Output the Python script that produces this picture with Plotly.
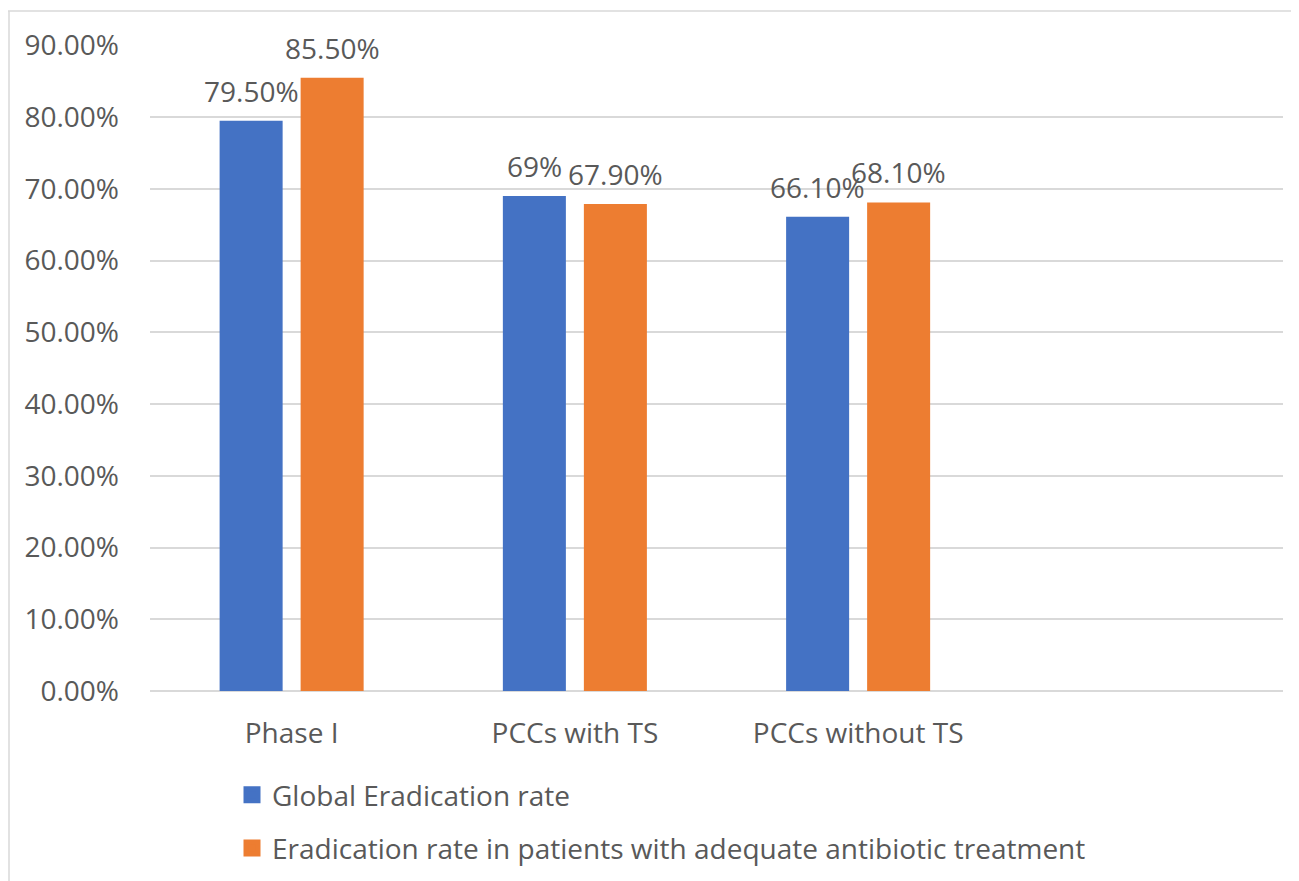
import plotly.graph_objects as go

categories = ["Phase I", "PCCs with TS", "PCCs without TS"]
all_categories = ["Phase I", "PCCs with TS", "PCCs without TS", " "]
global_rate = [0.795, 0.69, 0.661]
global_labels = ["79.50%", "69%", "66.10%"]
adequate_rate = [0.855, 0.679, 0.681]
adequate_labels = ["85.50%", "67.90%", "68.10%"]
series_names = ["Global Eradication rate",
                "Eradication rate in patients with adequate antibiotic treatment"]
colors = ["#4472C4", "#ED7D31"]
y_ticks = [0, 0.1, 0.2, 0.3, 0.4, 0.5, 0.6, 0.7, 0.8, 0.9]

FONT = "Open Sans"
FS = 28
TXT = "#595959"
GRID = "#d9d9d9"

fig = go.Figure()
series = [(global_rate, global_labels), (adequate_rate, adequate_labels)]
for k, (vals, labs) in enumerate(series):
    fig.add_trace(go.Bar(
        x=categories, y=vals, name=series_names[k],
        marker=dict(color=colors[k], line=dict(width=0)),
        showlegend=False, hoverinfo="x+y",
    ))
    # legend-only proxy on an overlaid hidden axis (bigger square symbol)
    fig.add_trace(go.Bar(
        x=[categories[0]], y=[None], name=series_names[k], yaxis="y2",
        marker=dict(color=colors[k], line=dict(color=colors[k], width=6)),
        showlegend=True, legendgroup=f"g{k}", hoverinfo="skip",
    ))

# data labels above each bar
xshift = [-40.5, 40.5]
for k, (vals, labs) in enumerate(series):
    for c, v, t in zip(categories, vals, labs):
        fig.add_annotation(
            x=c, y=v, text=t, xref="x", yref="y", showarrow=False,
            xanchor="center", yanchor="bottom", xshift=xshift[k], yshift=9,
            font=dict(family=FONT, size=FS, color=TXT),
        )

# page body has an 8px default margin; work in screen coordinates
OFF = 8
SW, SH = 1299, 881
W, H = SW - OFF, SH - OFF
L, R, T, B = 150 - OFF, 16, 45 - OFF, 190
pw, ph = W - L - R, H - T - B

def px_x(x):
    return (x - OFF - L) / pw

def px_y(y):
    return (H - B - (y - OFF)) / ph

fig.update_layout(
    width=W, height=H,
    margin=dict(l=L, r=R, t=T, b=B, autoexpand=False),
    paper_bgcolor="white", plot_bgcolor="white",
    font=dict(family=FONT, size=FS, color=TXT),
    barmode="group", bargap=0.428, bargroupgap=0.222,
    showlegend=True,
    legend=dict(
        orientation="v", x=px_x(232), y=px_y(770), xanchor="left", yanchor="top",
        font=dict(family=FONT, size=FS, color=TXT), tracegroupgap=14,
        bgcolor="rgba(0,0,0,0)",
    ),
    xaxis=dict(
        type="category", categoryorder="array", categoryarray=all_categories,
        range=[-0.5, 3.5], showgrid=False, showline=False, zeroline=False,
        ticks="", ticklabelstandoff=23,
        tickfont=dict(family=FONT, size=FS, color=TXT),
    ),
    yaxis=dict(
        range=[0, 0.9005], tickvals=y_ticks, tickformat=".2%",
        showgrid=True, gridcolor=GRID, gridwidth=1.5,
        zeroline=True, zerolinecolor=GRID, zerolinewidth=1.5,
        showline=False, ticks="", ticklabelstandoff=30,
        tickfont=dict(family=FONT, size=FS, color=TXT),
    ),
    yaxis2=dict(overlaying="y", visible=False, range=[0, 1]),
    shapes=[
        dict(type="line", xref="paper", yref="paper",
             x0=px_x(8), x1=px_x(1299), y0=px_y(11), y1=px_y(11),
             line=dict(color=GRID, width=1.5)),
        dict(type="line", xref="paper", yref="paper",
             x0=px_x(9), x1=px_x(9), y0=px_y(11), y1=px_y(881),
             line=dict(color=GRID, width=1.5)),
    ],
)

fig.write_html("out.html")
